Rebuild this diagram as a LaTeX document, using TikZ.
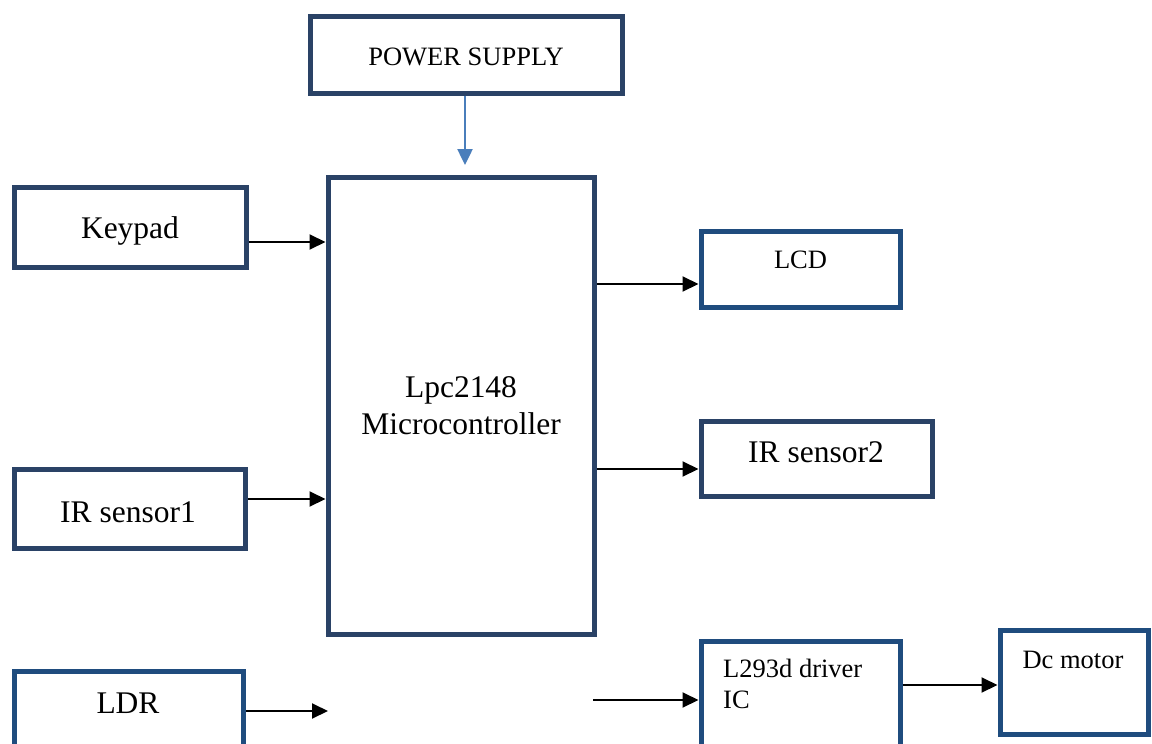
\documentclass[tikz,border=0pt]{standalone}
\usepackage{fontspec}
\setmainfont{Liberation Serif}
\usetikzlibrary{arrows.meta}
\definecolor{navy}{RGB}{42,66,102}
\definecolor{bluebox}{RGB}{31,76,126}
\definecolor{pwrarrow}{RGB}{74,126,187}
\tikzset{
  box/.style={draw=navy, line width=5pt, fill=white, inner sep=0pt, rectangle},
  bbox/.style={box, draw=bluebox},
  arr/.style={line width=2pt, -{Triangle[length=16pt,width=15pt]}},
  big/.style={font=\fontsize{31.5}{36}\selectfont, inner sep=0pt, anchor=base},
  small/.style={font=\fontsize{26.5}{31}\selectfont, inner sep=0pt, anchor=base},
}
\begin{document}
\begin{tikzpicture}[x=1pt,y=-1pt]
\useasboundingbox (0,0) rectangle (1152,744);
\clip (0,0) rectangle (1152,744);
% boxes
\node[box, minimum width=312pt, minimum height=77pt] (power) at (466,54.5) {};
\node[box, minimum width=232pt, minimum height=80pt] (keypad) at (130,227) {};
\node[box, minimum width=266pt, minimum height=457pt] (main) at (461,405.5) {};
\node[bbox, minimum width=199.5pt, minimum height=76pt] (lcd) at (800.75,269) {};
\node[box, minimum width=231.5pt, minimum height=75pt] (irtwo) at (816.75,458.5) {};
\node[box, minimum width=231pt, minimum height=79pt] (irone) at (130,508.5) {};
\node[bbox, minimum width=229.5pt, minimum height=129pt] (ldr) at (128.75,735.5) {};
\node[bbox, minimum width=199pt, minimum height=158pt] (driver) at (800.5,720) {};
\node[bbox, minimum width=148pt, minimum height=104pt] (motor) at (1074,682.5) {};
% labels
\node[small] (tpower) at (466,65) {POWER SUPPLY};
\node[big] (tkeypad) at (130,238) {Keypad};
\node[big] (tmain1) at (461,397) {Lpc2148};
\node[big] (tmain2) at (461,434) {Microcontroller};
\node[small] (tlcd) at (800.5,268) {LCD};
\node[big] (tirtwo) at (816,462) {IR sensor2};
\node[big] (tirone) at (128,522) {IR sensor1};
\node[big] (tldr) at (128,713) {LDR};
\node[small, anchor=base west] (tdrv1) at (723,677) {L293d driver};
\node[small, anchor=base west] (tdrv2) at (723,708) {IC};
\node[small] (tmotor) at (1073,668) {Dc motor};
% free ends
\coordinate (pwrtip) at (465,165);
\coordinate (ldrtip) at (328,711);
\coordinate (drvstart) at (593,700);
% connectors
\draw[arr, draw=pwrarrow, fill=pwrarrow, line width=2.5pt] (power.south -| pwrtip) -- (pwrtip);
\draw[arr] (keypad.east |- 0,242) -- (main.west |- 0,242);
\draw[arr] (irone.east |- 0,499) -- (main.west |- 0,499);
\draw[arr] (ldr.east |- ldrtip) -- (ldrtip);
\draw[arr] (main.east |- 0,284) -- (lcd.west |- 0,284);
\draw[arr] (main.east |- 0,469) -- (irtwo.west |- 0,469);
\draw[arr] (drvstart) -- (driver.west |- drvstart);
\draw[arr] (driver.east |- 0,685) -- (motor.west |- 0,685);
\end{tikzpicture}
\end{document}
